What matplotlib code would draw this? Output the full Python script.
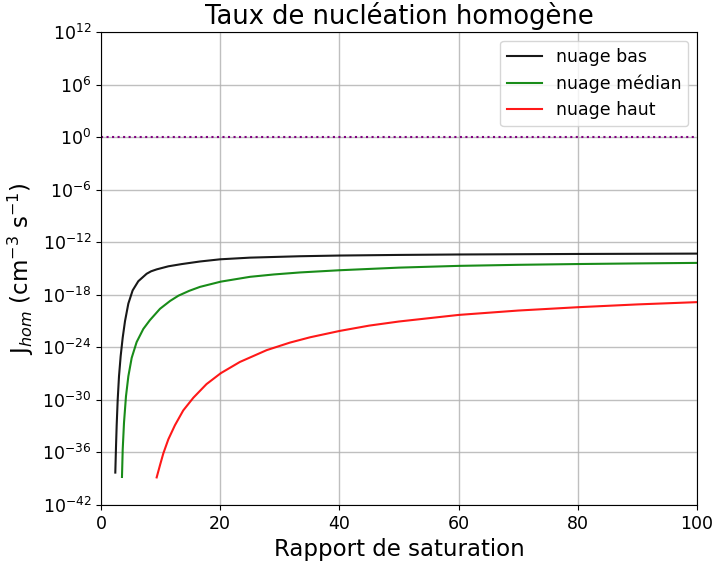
import numpy as np
import matplotlib
matplotlib.use("Agg")
import matplotlib.pyplot as plt
from matplotlib.ticker import FixedLocator, NullLocator, LogFormatterSciNotation

# Data: saturation ratio and log10 of J_hom
x_bas = [2.40, 2.52, 2.63, 2.80, 3.02, 3.30, 3.64, 4.03, 4.59, 5.31, 6.26, 7.66, 8.4,
         9.34, 11.3, 13.5, 16.6, 20, 25, 33.4, 40, 50, 60, 80, 100]
logj_bas = [-38.3, -35.3, -32.9, -30.0, -27.3, -25.0, -22.9, -21.0, -19.0, -17.5, -16.45,
            -15.6, -15.32, -15.1, -14.75, -14.5, -14.2, -13.95, -13.76, -13.6, -13.52,
            -13.45, -13.4, -13.34, -13.3]

x_median = [3.52, 3.64, 3.86, 4.19, 4.59, 5.15, 5.98, 7.10, 8.2, 9.9, 11.6, 13.0, 14.8,
            16.6, 20.1, 25.0, 29.0, 33.4, 40, 50, 60, 70, 80, 90, 100]
logj_median = [-38.8, -35.7, -32.6, -29.6, -27.3, -25.2, -23.4, -21.9, -20.9, -19.6,
               -18.7, -18.1, -17.55, -17.1, -16.5, -15.95, -15.68, -15.45, -15.2, -14.9,
               -14.7, -14.58, -14.49, -14.42, -14.36]

x_haut = [9.34, 9.9, 10.46, 11.3, 12.4, 13.8, 15.5, 17.7, 20.1, 23.3, 27.8, 31.7, 35.1,
          40.1, 45, 50, 60, 70, 80, 90, 100]
logj_haut = [-38.85, -37.45, -36.1, -34.5, -32.9, -31.2, -29.75, -28.2, -26.95, -25.67,
             -24.32, -23.46, -22.85, -22.12, -21.52, -21.05, -20.3, -19.8, -19.42, -19.1,
             -18.84]

series_labels = ["nuage bas", "nuage médian", "nuage haut"]
series_colors = ["k", "g", "r"]
ref_level = 1.0
ytick_exponents = [-42, -36, -30, -24, -18, -12, -6, 0, 6, 12]
xticks = [0, 20, 40, 60, 80, 100]

fig = plt.figure(figsize=(7.13, 5.61), dpi=100)
ax = fig.add_axes([101 / 713, 56 / 561, 596 / 713, 473 / 561])

for xs, ls, lab, col in zip([x_bas, x_median, x_haut],
                            [logj_bas, logj_median, logj_haut],
                            series_labels, series_colors):
    ax.plot(xs, 10.0 ** np.array(ls), color=col, lw=1.5, alpha=0.9, label=lab,
            solid_joinstyle="round")

ax.axhline(ref_level, color="purple", ls=":", lw=1.5)

ax.set_yscale("log")
ax.set_xlim(0, 100)
ax.set_ylim(1e-42, 1e12)
ax.yaxis.set_major_locator(FixedLocator([10.0 ** e for e in ytick_exponents]))
ax.yaxis.set_minor_locator(NullLocator())
ax.yaxis.set_major_formatter(LogFormatterSciNotation())
ax.set_xticks(xticks)
ax.grid(True, color="#b0b0b0", lw=1, alpha=0.8)
ax.tick_params(labelsize=12.5)

ax.set_title("Taux de nucléation homogène", fontsize=18.5)
ax.set_xlabel("Rapport de saturation", fontsize=16.5)
ax.set_ylabel("J$_{hom}$ (cm$^{-3}$ s$^{-1}$)", fontsize=16.5)
ax.legend(loc="upper right", fontsize=12.5)

fig.savefig("out.png", dpi=100)
